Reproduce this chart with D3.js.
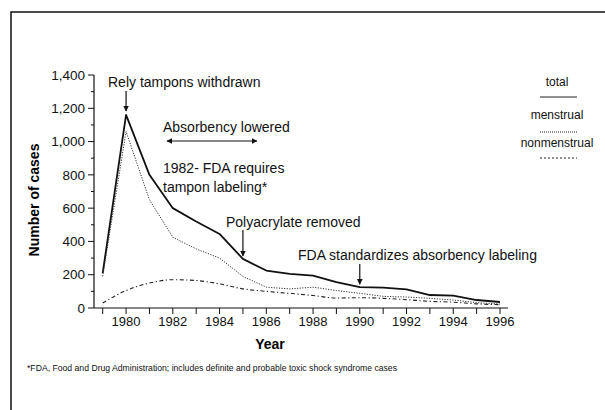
<!DOCTYPE html>
<html>
<head>
<meta charset="utf-8">
<script src="https://cdn.jsdelivr.net/npm/d3@7"></script>
<style>
  body { margin: 0; background: #fff; }
  svg { display: block; font-family: "Liberation Sans", Arial, sans-serif; }
</style>
</head>
<body>
<svg id="chart" width="605" height="410"></svg>
<script>
const years = d3.range(1979, 1997);
const total = [210, 1160, 800, 600, 520, 445, 295, 225, 205, 195, 155, 125, 122, 112, 78, 74, 48, 36];
const menstrual = [190, 1060, 650, 425, 355, 300, 190, 125, 115, 125, 105, 88, 70, 66, 58, 48, 32, 24];
const nonmenstrual = [30, 105, 150, 170, 165, 145, 115, 100, 88, 75, 60, 62, 58, 50, 40, 35, 25, 20];
const yTicks = [0, 200, 400, 600, 800, 1000, 1200, 1400];
const xLabels = [1980, 1982, 1984, 1986, 1988, 1990, 1992, 1994, 1996];

const svg = d3.select("#chart");

// frame (top and left edge of the scanned page)
svg.append("path")
  .attr("d", "M11,410V12H605")
  .attr("fill", "none")
  .attr("stroke", "#111")
  .attr("stroke-width", 1.5);

const x = d3.scaleLinear().domain([1979, 1996]).range([102.7, 500]);
const y = d3.scaleLinear().domain([0, 1400]).range([308, 75]);
const axisX = 94;

// arrow head
svg.append("defs").append("marker")
  .attr("id", "head")
  .attr("viewBox", "0 0 10 10")
  .attr("refX", 9).attr("refY", 5)
  .attr("markerWidth", 6).attr("markerHeight", 7)
  .attr("markerUnits", "userSpaceOnUse")
  .attr("orient", "auto-start-reverse")
  .append("path")
  .attr("d", "M0,0L10,5L0,10z")
  .attr("fill", "#111");

// y axis
const gy = svg.append("g").attr("stroke", "#111");
gy.append("line").attr("x1", axisX).attr("x2", axisX).attr("y1", y(1400)).attr("y2", y(0)).attr("stroke-width", 1.2);
gy.selectAll(".minor").data(d3.range(100, 1400, 200)).join("line")
  .attr("x1", axisX - 3).attr("x2", axisX)
  .attr("y1", d => y(d)).attr("y2", d => y(d));
gy.selectAll(".major").data(yTicks).join("line")
  .attr("x1", axisX - 6).attr("x2", axisX)
  .attr("y1", d => y(d)).attr("y2", d => y(d));
svg.append("g").selectAll("text").data(yTicks).join("text")
  .attr("x", axisX - 9).attr("y", d => y(d)).attr("dy", "0.35em")
  .attr("text-anchor", "end").attr("font-size", 13.5).attr("fill", "#111")
  .text(d => d3.format(",")(d));

// x axis
const gx = svg.append("g").attr("stroke", "#111");
gx.append("line").attr("x1", axisX).attr("x2", 508).attr("y1", y(0)).attr("y2", y(0)).attr("stroke-width", 1.2);
gx.selectAll(".t").data(years).join("line")
  .attr("x1", d => x(d)).attr("x2", d => x(d))
  .attr("y1", y(0)).attr("y2", y(0) + 6);
svg.append("g").selectAll("text").data(xLabels).join("text")
  .attr("x", d => x(d)).attr("y", 326)
  .attr("text-anchor", "middle").attr("font-size", 13).attr("fill", "#111")
  .text(d => d);

svg.append("text").attr("x", 270).attr("y", 349)
  .attr("text-anchor", "middle").attr("font-size", 14).attr("font-weight", "bold")
  .text("Year");
svg.append("text")
  .attr("transform", "translate(39,200) rotate(-90)")
  .attr("text-anchor", "middle").attr("font-size", 14).attr("font-weight", "bold")
  .text("Number of cases");

// lines
const line = d3.line().x((d, i) => x(years[i])).y(d => y(d));
const series = [
  { values: total, dash: null, width: 1.8, color: "#111", curve: d3.curveLinear },
  { values: menstrual, dash: "1.2,1.4", width: 1, color: "#333", curve: d3.curveLinear },
  { values: nonmenstrual, dash: "4,2.5,1.2,2.5", width: 1.1, color: "#222", curve: d3.curveMonotoneX }
];
svg.append("g").selectAll("path").data(series).join("path")
  .attr("d", d => line.curve(d.curve)(d.values))
  .attr("fill", "none")
  .attr("stroke", d => d.color)
  .attr("stroke-width", d => d.width)
  .attr("stroke-linejoin", "round")
  .attr("stroke-dasharray", d => d.dash);

// annotations
const ann = svg.append("g").attr("font-size", 14).attr("fill", "#111");
ann.append("text").attr("x", 108).attr("y", 87).text("Rely tampons withdrawn");
ann.append("text").attr("x", 163).attr("y", 132).text("Absorbency lowered");
ann.append("text").attr("x", 163).attr("y", 173).text("1982- FDA requires");
ann.append("text").attr("x", 163).attr("y", 192).text("tampon labeling*");
ann.append("text").attr("x", 226).attr("y", 227).text("Polyacrylate removed");
ann.append("text").attr("x", 298).attr("y", 260).text("FDA standardizes absorbency labeling");

const arrows = svg.append("g").attr("stroke", "#111").attr("stroke-width", 1.2);
arrows.append("line").attr("x1", x(1980)).attr("x2", x(1980)).attr("y1", 91).attr("y2", y(1160) - 4)
  .attr("marker-end", "url(#head)");
arrows.append("line").attr("x1", x(1981.75)).attr("x2", x(1985.6)).attr("y1", 141).attr("y2", 141)
  .attr("marker-start", "url(#head)").attr("marker-end", "url(#head)");
arrows.append("line").attr("x1", x(1985)).attr("x2", x(1985)).attr("y1", 230).attr("y2", y(295) - 3)
  .attr("marker-end", "url(#head)");
arrows.append("line").attr("x1", x(1990)).attr("x2", x(1990)).attr("y1", 264).attr("y2", y(125) - 3)
  .attr("marker-end", "url(#head)");

// legend
const legend = [
  { label: "total", y: 86, ly: 97, dash: null, width: 1 },
  { label: "menstrual", y: 119, ly: 132, dash: "1,1", width: 1 },
  { label: "nonmenstrual", y: 147, ly: 158, dash: "2,2", width: 1.2 }
];
const lg = svg.append("g");
lg.selectAll("text").data(legend).join("text")
  .attr("x", 557).attr("y", d => d.y).attr("text-anchor", "middle")
  .attr("font-size", 12).attr("fill", "#111").text(d => d.label);
lg.selectAll("line").data(legend).join("line")
  .attr("x1", 540).attr("x2", 577).attr("y1", d => d.ly).attr("y2", d => d.ly)
  .attr("stroke", "#222").attr("stroke-width", d => d.width).attr("stroke-dasharray", d => d.dash);

// footnote
svg.append("text").attr("x", 27).attr("y", 371)
  .attr("font-size", 9.5).attr("fill", "#111")
  .attr("textLength", 370).attr("lengthAdjust", "spacingAndGlyphs")
  .text("*FDA, Food and Drug Administration; includes definite and probable toxic shock syndrome cases");
</script>
</body>
</html>
